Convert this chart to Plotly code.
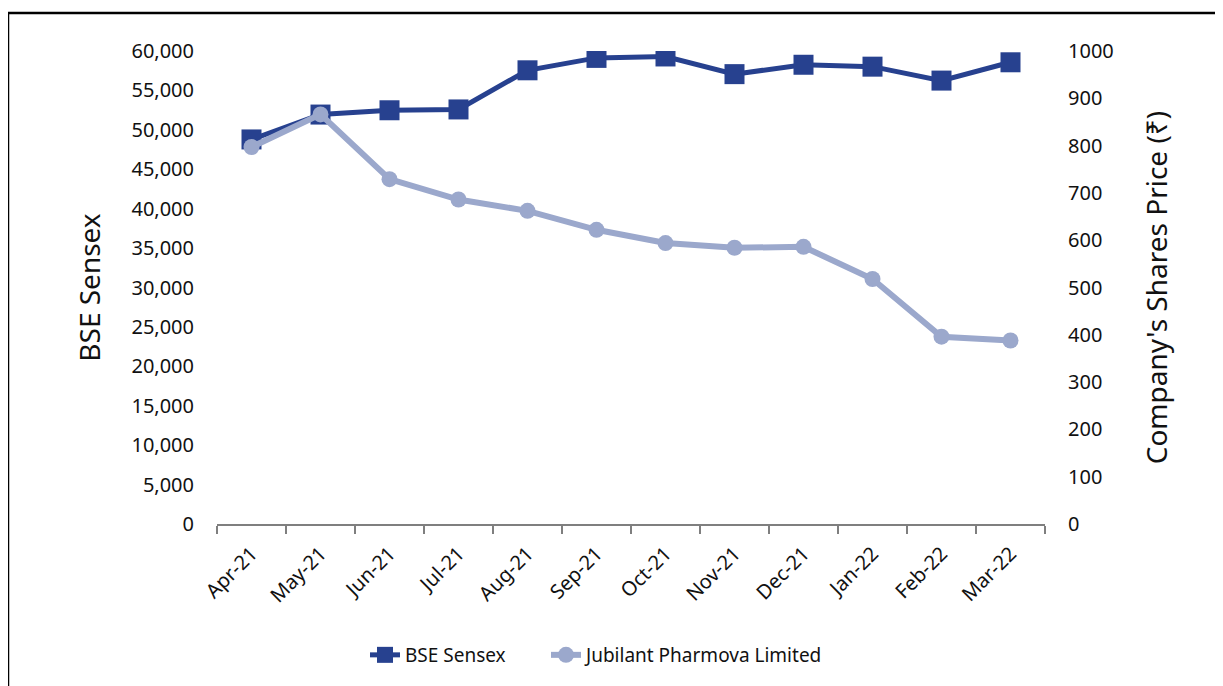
import plotly.graph_objects as go

months = ["Apr-21", "May-21", "Jun-21", "Jul-21", "Aug-21", "Sep-21",
          "Oct-21", "Nov-21", "Dec-21", "Jan-22", "Feb-22", "Mar-22"]
bse_sensex = [48782, 51937, 52482, 52587, 57552, 59126,
              59307, 57065, 58254, 58014, 56247, 58569]
jubilant = [797, 866, 729, 686, 662, 622, 594, 584, 586, 518, 396, 388]

left_ticks = list(range(0, 60001, 5000))
right_ticks = list(range(0, 1001, 100))

FONT = "Noto Sans"
DARK = "#27418F"
LIGHT = "#9BA8CC"

W, H = 1215, 678
L, R, T, B = 209, 178, 43, 162
PW, PH = W - L - R, H - T - B
OFF = 8  # page body margin

fig = go.Figure()
fig.add_trace(go.Scatter(
    x=months, y=bse_sensex, name="BSE Sensex", mode="lines+markers",
    line=dict(color=DARK, width=5),
    marker=dict(symbol="square", size=20, color=DARK),
    yaxis="y", legend="legend"))
fig.add_trace(go.Scatter(
    x=months, y=jubilant, name="Jubilant Pharmova Limited", mode="lines+markers",
    line=dict(color=LIGHT, width=6),
    marker=dict(symbol="circle", size=16, color=LIGHT),
    yaxis="y2", legend="legend2"))

leg_y = (PH - (647 - T)) / PH
fig.update_layout(
    width=W, height=H,
    margin=dict(l=L, r=R, t=T, b=B, autoexpand=False),
    paper_bgcolor="white", plot_bgcolor="white",
    font=dict(family=FONT, size=20, color="#111"),
    showlegend=True,
    legend=dict(orientation="h", x=(365 - OFF - L) / PW, xanchor="left",
                y=leg_y, yanchor="middle", font=dict(size=19)),
    legend2=dict(orientation="h", x=(546 - OFF - L) / PW, xanchor="left",
                 y=leg_y, yanchor="middle", font=dict(size=19)),
    xaxis=dict(
        type="category", tickangle=-45, showgrid=False,
        showline=True, linecolor="#7f7f7f", linewidth=2,
        ticks="outside", ticklen=8, tickcolor="#7f7f7f", tickwidth=2,
        tickson="boundaries", tickfont=dict(size=20), ticklabelstandoff=8,
        range=[-0.5, 11.5]),
    yaxis=dict(
        range=[0, 60000], tickvals=left_ticks,
        ticktext=[f"{v:,}" for v in left_ticks],
        showgrid=False, zeroline=False, showline=False, ticks="",
        ticklabelstandoff=22,
        title=dict(text="BSE Sensex", font=dict(size=28), standoff=22)),
    yaxis2=dict(
        range=[0, 1000], tickvals=right_ticks, overlaying="y", side="right",
        showgrid=False, zeroline=False, showline=False, ticks="",
        ticklabelstandoff=22,
        title=dict(text="Company's Shares Price (₹)", font=dict(size=28), standoff=34)),
    shapes=[dict(type="rect", xref="paper", yref="paper",
                 x0=-L / PW, x1=1.4, y0=-0.6, y1=1 + (T - 5) / PH,
                 line=dict(color="black", width=2.5), fillcolor="rgba(0,0,0,0)")],
)

fig.write_html("out.html")
